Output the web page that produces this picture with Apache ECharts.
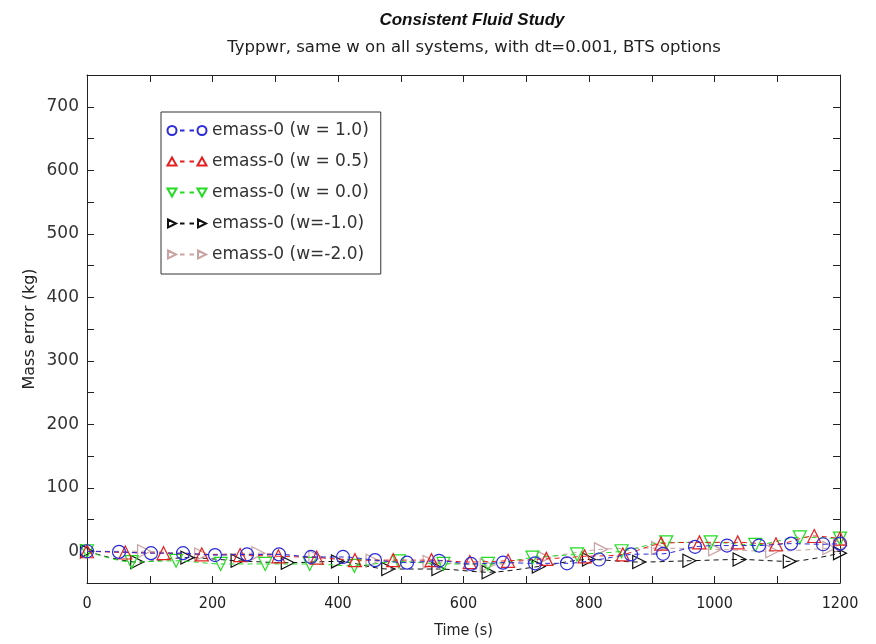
<!DOCTYPE html>
<html>
<head>
<meta charset="utf-8">
<script src="https://cdn.jsdelivr.net/npm/echarts@6/dist/echarts.min.js"></script>
<style>
html,body{margin:0;padding:0;background:#fff;}
#chart{width:876px;height:644px;}
</style>
</head>
<body>
<div id="chart"></div>
<script>
// ---- data ----
const seriesNames = ['emass-0 (w = 1.0)', 'emass-0 (w = 0.5)', 'emass-0 (w = 0.0)', 'emass-0 (w=-1.0)', 'emass-0 (w=-2.0)'];

const tBlue = [0, 51, 102, 153, 204, 255, 306, 357, 408, 459, 510, 561, 612, 663, 714, 765, 816, 867, 918, 969, 1020, 1071, 1122, 1173, 1200];
const vBlue = [0, -1, -3, -3, -6, -5, -5, -9, -9, -14, -18, -15, -20, -18, -19, -19, -13, -5, -4, 7, 9, 9, 12, 11, 12];

const tRed = [0, 61, 122, 183, 244, 305, 366, 427, 488, 549, 610, 671, 732, 793, 854, 915, 976, 1037, 1098, 1159, 1200];
const vRed = [0, -2, -3, -5, -6, -8, -10, -14, -14, -14, -17, -15, -12, -8, -5, 12, 14, 14, 11, 24, 20];

const tGreen = [0, 71, 142, 213, 284, 355, 426, 497, 568, 639, 710, 781, 852, 923, 994, 1065, 1136, 1200];
const vGreen = [0, -17, -15, -20, -20, -20, -23, -16, -20, -20, -10, -5, 0, 14, 14, 10, 22, 20];

const tBlack = [0, 80, 160, 240, 320, 400, 480, 560, 640, 720, 800, 880, 960, 1040, 1120, 1200];
const vBlack = [0, -17, -10, -15, -18, -16, -28, -28, -33, -24, -13, -17, -15, -13, -16, -3];

const tPink = [0, 91, 182, 273, 364, 455, 546, 637, 728, 819, 910, 1001, 1092, 1183, 1200];
const vPink = [0, 0, -5, -3, -9, -15, -17, -22, -10, 3, 5, 3, 0, 5, 8];

const xTicks = [0, 200, 400, 600, 800, 1000, 1200];
const yTicks = [0, 100, 200, 300, 400, 500, 600, 700];

// ---- chart ----
const zip = (t, v) => t.map((x, i) => [x, v[i]]);
const colors = ['#2b2bd9', '#e62020', '#22dd22', '#111111', '#c9a3a3'];
const symbols = ['circle', 'triangle', 'triangle', 'triangle', 'triangle'];
const rotates = [0, 0, 180, -90, -90];
const datas = [zip(tBlue, vBlue), zip(tRed, vRed), zip(tGreen, vGreen), zip(tBlack, vBlack), zip(tPink, vPink)];

const dashes = ' M13,5 L17.5,5 M22.5,5 L27,5';
const legendIcons = [
  'path://M0.5,5 A4.5,4.5 0 1,1 9.5,5 A4.5,4.5 0 1,1 0.5,5 Z M30.5,5 A4.5,4.5 0 1,1 39.5,5 A4.5,4.5 0 1,1 30.5,5 Z' + dashes + ' M0,0 M40,10',
  'path://M0.5,9 L5,1 L9.5,9 Z M30.5,9 L35,1 L39.5,9 Z' + dashes + ' M0,0 M40,10',
  'path://M0.5,1 L9.5,1 L5,9 Z M30.5,1 L39.5,1 L35,9 Z' + dashes + ' M0,0 M40,10',
  'path://M1,1 L9,5 L1,9 Z M31,1 L39,5 L31,9 Z' + dashes + ' M0,0 M40,10',
  'path://M1,1 L9,5 L1,9 Z M31,1 L39,5 L31,9 Z' + dashes + ' M0,0 M40,10'
];

const series = seriesNames.map((n, i) => ({
  name: n,
  type: 'line',
  data: datas[i],
  smooth: 0.3,
  showAllSymbol: true,
  symbol: symbols[i],
  symbolRotate: rotates[i],
  symbolSize: 13,
  lineStyle: { color: colors[i], width: 1, type: [5, 4] },
  itemStyle: { color: 'rgba(255,255,255,0)', borderColor: colors[i], borderWidth: 1.2 },
  emphasis: { disabled: true },
  animation: false,
  z: 5 - i
}));

const chart = echarts.init(document.getElementById('chart'), null, { renderer: 'canvas' });
const axisLine = { show: true, onZero: false, lineStyle: { color: '#222', width: 1 } };
const inTick = { show: true, inside: true, length: 7, lineStyle: { color: '#222' } };

chart.setOption({
  backgroundColor: '#fff',
  animation: false,
  title: [
    { text: 'Consistent Fluid Study', left: 467, top: 7, textAlign: 'center',
      textStyle: { fontFamily: 'Liberation Sans', fontSize: 17, fontWeight: 'bold', fontStyle: 'italic', color: '#111' } },
    { text: 'Typpwr, same w on all systems, with dt=0.001, BTS options', left: 469, top: 34, textAlign: 'center',
      textStyle: { fontFamily: 'DejaVu Sans', fontSize: 16.5, fontWeight: 'normal', color: '#222' } }
  ],
  legend: {
    orient: 'vertical', left: 161, top: 112,
    backgroundColor: '#fff', borderColor: '#333', borderWidth: 1,
    padding: [10, 12, 11, 5], itemGap: 14, itemWidth: 40, itemHeight: 10,
    symbolRotate: 0,
    textStyle: { fontFamily: 'DejaVu Sans', fontSize: 17, color: '#333' },
    data: seriesNames.map((n, i) => ({ name: n, icon: legendIcons[i] }))
  },
  grid: { left: 87, right: 36, top: 75, bottom: 61, containLabel: false },
  xAxis: [{
    type: 'value', min: 0, max: 1200, interval: 100,
    name: 'Time (s)', nameLocation: 'middle', nameGap: 40, nameMoveOverlap: false,
    nameTextStyle: { fontFamily: 'DejaVu Sans Condensed, DejaVu Sans', fontSize: 16, color: '#222' },
    axisLine, axisTick: inTick, splitLine: { show: false },
    axisLabel: { margin: 13, fontFamily: 'DejaVu Sans Condensed, DejaVu Sans', fontSize: 16, color: '#222',
      formatter: v => xTicks.includes(v) ? String(v) : '' }
  }, {
    type: 'value', position: 'top', min: 0, max: 1200, interval: 100,
    axisLine, axisTick: inTick, axisLabel: { show: false }, splitLine: { show: false }
  }],
  yAxis: [{
    type: 'value', min: -50, max: 750, interval: 50,
    name: 'Mass error (kg)', nameLocation: 'middle', nameGap: 49, nameMoveOverlap: false,
    nameTextStyle: { fontFamily: 'DejaVu Sans', fontSize: 16, color: '#222' },
    axisLine, axisTick: inTick, splitLine: { show: false },
    axisLabel: { margin: 8, fontFamily: 'DejaVu Sans', fontSize: 17, color: '#333',
      formatter: v => yTicks.includes(v) ? String(v) : '' }
  }, {
    type: 'value', position: 'right', min: -50, max: 750, interval: 50,
    axisLine, axisTick: inTick, axisLabel: { show: false }, splitLine: { show: false }
  }],
  series
});
</script>
</body>
</html>
